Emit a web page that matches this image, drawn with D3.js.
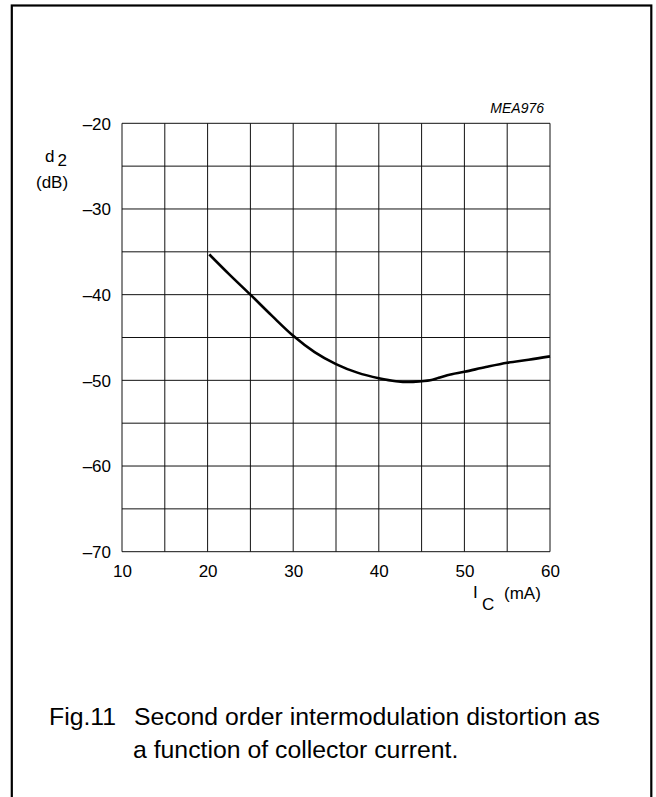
<!DOCTYPE html>
<html>
<head>
<meta charset="utf-8">
<script src="https://cdn.jsdelivr.net/npm/d3@7"></script>
<style>
  body { margin: 0; background: #fff; }
  svg { display: block; font-family: "Liberation Sans", Arial, sans-serif; }
</style>
</head>
<body>
<script>
// collector current (mA) and second order intermodulation distortion (dB)
const icValues = [20.2, 22.5, 25, 27.5, 30, 32.5, 35, 37.5, 40, 42, 43.5, 45, 46, 47, 48, 50, 52.5, 55, 57.5, 60]
const d2Values = [-35.3, -37.6, -40.0, -42.45, -44.8, -46.7, -48.1, -49.1, -49.75, -50.1, -50.2, -50.1, -50.0, -49.7, -49.4, -49.0, -48.45, -47.95, -47.6, -47.2]

const xTicks = [10, 20, 30, 40, 50, 60]
const yTicks = [-20, -30, -40, -50, -60, -70]
const xGrid = d3.range(10, 61, 5)
const yGrid = d3.range(-70, -19, 5)

const w = 656
const h = 797

const svg = d3.select('body').append('svg')
    .attr('width', w)
    .attr('height', h)

// frame round the figure
svg.append('rect')
    .attr('x', 11.8)
    .attr('y', 5.5)
    .attr('width', 639.5)
    .attr('height', 800)
    .attr('fill', 'none')
    .attr('stroke', '#000')
    .attr('stroke-width', 2.2)

const x = d3.scaleLinear().domain([10, 60]).range([122, 550])
const y = d3.scaleLinear().domain([-70, -20]).range([551.7, 123.3])

const grid = svg.append('g')
    .attr('stroke', '#111')
    .attr('stroke-width', 1)

grid.selectAll('line.v')
    .data(xGrid)
    .enter()
    .append('line')
    .attr('class', 'v')
    .attr('x1', d => x(d))
    .attr('x2', d => x(d))
    .attr('y1', y(-70))
    .attr('y2', y(-20))

grid.selectAll('line.h')
    .data(yGrid)
    .enter()
    .append('line')
    .attr('class', 'h')
    .attr('x1', x(10))
    .attr('x2', x(60))
    .attr('y1', d => y(d))
    .attr('y2', d => y(d))

// tick labels through the axes, without their own lines
const xAxis = d3.axisBottom(x).tickValues(xTicks).tickSize(0).tickPadding(0)
const yAxis = d3.axisLeft(y).tickValues(yTicks).tickSize(0).tickPadding(0)
    .tickFormat(d => '\u2013' + Math.abs(d))

const gx = svg.append('g')
    .attr('transform', `translate(0, ${y(-70)})`)
    .call(xAxis)
gx.select('.domain').remove()
gx.selectAll('text')
    .attr('y', 25.3)
    .attr('dy', null)
    .attr('font-size', 17)
    .attr('fill', '#000')

const gy = svg.append('g')
    .attr('transform', `translate(${x(10) - 11}, 0)`)
    .call(yAxis)
gy.select('.domain').remove()
gy.selectAll('text')
    .attr('x', 0)
    .attr('dy', '0.35em')
    .attr('font-size', 17)
    .attr('fill', '#000')

gx.attr('font-family', null)
gy.attr('font-family', null)

// the curve
const pts = icValues.map((v, i) => [v, d2Values[i]])
const line = d3.line()
    .x(d => x(d[0]))
    .y(d => y(d[1]))
    .curve(d3.curveMonotoneX)

svg.append('path')
    .datum(pts)
    .attr('d', line)
    .attr('fill', 'none')
    .attr('stroke', '#000')
    .attr('stroke-width', 2.6)
    .attr('stroke-linecap', 'butt')

// labels
svg.append('text')
    .attr('x', 544)
    .attr('y', 113)
    .attr('text-anchor', 'end')
    .attr('font-size', 14)
    .attr('font-style', 'italic')
    .text('MEA976')

svg.append('text').attr('x', 45).attr('y', 162).attr('font-size', 17).text('d')
svg.append('text').attr('x', 57.5).attr('y', 165.5).attr('font-size', 17).text('2')
svg.append('text').attr('x', 36).attr('y', 188).attr('font-size', 17).text('(dB)')

svg.append('text').attr('x', 473).attr('y', 598).attr('font-size', 17).text('I')
svg.append('text').attr('x', 482).attr('y', 610).attr('font-size', 17).text('C')
svg.append('text').attr('x', 504).attr('y', 599).attr('font-size', 17).text('(mA)')

// caption
const cap = svg.append('g').attr('font-size', 24.8).attr('fill', '#000')
cap.append('text').attr('x', 49).attr('y', 725).text('Fig.11')
cap.append('text').attr('x', 134).attr('y', 725).text('Second order intermodulation distortion as')
cap.append('text').attr('x', 133).attr('y', 758).text('a function of collector current.')
</script>
</body>
</html>
